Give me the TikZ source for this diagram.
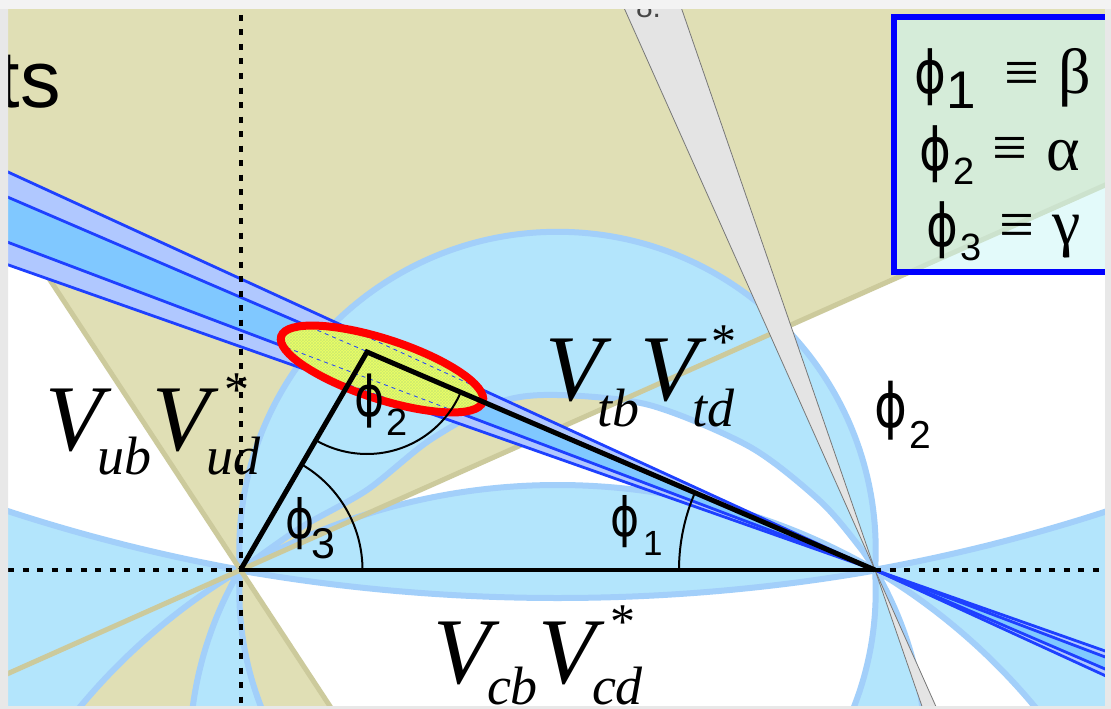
\documentclass[tikz,border=0pt]{standalone}
\usepackage{fontspec}
\usepackage{graphicx}
\setmainfont{Liberation Serif}
\newfontfamily\sansf{Liberation Sans}
\newfontfamily\phif{DejaVu Sans}
\newcommand\phig{\scalebox{0.82}[1]{\phif ϕ}}
\usetikzlibrary{calc,patterns}
\definecolor{tanf}{RGB}{224,223,181}
\definecolor{tane}{RGB}{204,202,156}
\definecolor{lbf}{RGB}{179,229,252}
\definecolor{lbe}{RGB}{162,207,250}
\definecolor{bandA}{RGB}{176,200,255}
\definecolor{bandB}{RGB}{128,200,255}
\definecolor{bandL}{RGB}{30,64,255}
\definecolor{grayw}{RGB}{228,228,228}
\definecolor{graye}{RGB}{120,120,120}
\definecolor{ellf}{RGB}{238,255,100}
\definecolor{ellp}{RGB}{205,235,110}
\definecolor{legf}{RGB}{205,247,247}
\definecolor{frameT}{RGB}{243,243,243}
\definecolor{frameS}{RGB}{232,232,232}
\definecolor{legb}{RGB}{0,0,255}
\begin{document}
\begin{tikzpicture}[x=1pt,y=-1pt,
  lbl/.style={inner sep=0pt,outer sep=0pt,anchor=base west},
  bluefill/.style={fill=lbf},
  blueedge/.style={draw=lbe,line width=6},
  tanedge/.style={draw=tane,line width=5},
  bandline/.style={draw=bandL,line width=2.8},
  axisdots/.style={draw=black,line width=4.5,dash pattern=on 6 off 8.5},
  triside/.style={draw=black,line width=5,line join=miter},
  anglearc/.style={draw=black,line width=2},
  phifont/.style={font=\fontsize{#1}{#1}\selectfont},
  digfont/.style={font=\sansf\fontsize{#1}{#1}\selectfont},
  vfont/.style={font=\fontsize{94}{94}\selectfont\itshape},
  subfont/.style={font=\fontsize{54}{54}\selectfont\itshape},
  starfont/.style={font=\fontsize{50}{50}\selectfont}]
\useasboundingbox (0,0) rectangle (1111,709);
\coordinate (O) at (240.5,570);
\coordinate (P) at (875,570);
\coordinate (A) at (367,352);
% band coordinates
\coordinate (b1l) at (-50,145.4); \coordinate (b1r) at (1160,700.8);
\coordinate (b2l) at (-50,172.3); \coordinate (b2r) at (1160,692.6);
\coordinate (b3l) at (-50,220.4); \coordinate (b3r) at (1160,677.7);
\coordinate (b4l) at (-50,244.4); \coordinate (b4r) at (1160,670.3);
% gray wedge coordinates
\coordinate (g1t) at (612.5,-18); \coordinate (g1b) at (950,738);
\coordinate (g2t) at (672.4,-18); \coordinate (g2b) at (932.9,738);
\begin{scope}
\clip (8,9) rectangle (1105,706);
\fill[white] (0,0) rectangle (1111,709);
% gamma wedges
\fill[tanf] (O) -- ($(O)+(-24:2500)$) -- ($(O)+(-73.6:2500)$) -- ($(O)+(-123.3:2500)$) -- cycle;
\fill[tanf] (O) -- ($(O)+(156:2500)$) -- ($(O)+(106.4:2500)$) -- ($(O)+(56.7:2500)$) -- cycle;
% alpha regions, upper half
\begin{scope}
\clip (0,0) rectangle (1111,570);
\fill[bluefill,even odd rule] (-100,-100) rectangle (1300,570) (557.5,-1174) circle[radius=1772];
\fill[bluefill,even odd rule] (557.5,550) circle[radius=318.2]
  (240.5,570) plot[smooth] coordinates {(240.5,570) (300,528) (367,490) (430,440) (500,402) (557.5,395) (650,405.2) (750,446.9) (820,501) (860,547.4) (875,570)} -- cycle;
\fill[bluefill] (557.5,1120) circle[radius=635];
\path[blueedge] (557.5,-1174) circle[radius=1772] (557.5,550) circle[radius=318.2]
  (557.5,1120) circle[radius=635];
\path[blueedge] plot[smooth] coordinates {(240.5,570) (300,528) (367,490) (430,440) (500,402) (557.5,395) (650,405.2) (750,446.9) (820,501) (860,547.4) (875,570)};
\end{scope}
% alpha regions, lower half
\begin{scope}
\clip (0,570) rectangle (1111,800);
\fill[bluefill,even odd rule] (-100,570) rectangle (1300,800) (557.5,1104) circle[radius=621];
\fill[bluefill,even odd rule] (557.5,756) circle[radius=368] (557.5,591) circle[radius=318.2];
\fill[bluefill] (557.5,-1230) circle[radius=1828];
\path[blueedge] (557.5,1104) circle[radius=621] (557.5,756) circle[radius=368]
  (557.5,591) circle[radius=318.2] (557.5,-1230) circle[radius=1828];
\end{scope}
% gamma edges
\path[tanedge] ($(O)+(-24:2500)$) -- (O) -- ($(O)+(-123.3:2500)$);
\path[tanedge] ($(O)+(156:2500)$) -- (O) -- ($(O)+(56.7:2500)$);
% beta bands
\fill[bandA] (b1l) -- (P) -- (b4l) -- cycle;
\fill[bandA] (b1r) -- (P) -- (b4r) -- cycle;
\fill[bandB] (b2l) -- (P) -- (b3l) -- cycle;
\fill[bandB] (b2r) -- (P) -- (b3r) -- cycle;
\path[bandline] (b1l) -- (b1r);
\path[bandline] (b2l) -- (b2r);
\path[bandline] (b3l) -- (b3r);
\path[bandline] (b4l) -- (b4r);
% gray wedge
\fill[grayw] (g1t) -- (g2t) -- (P) -- cycle;
\fill[grayw] (g1b) -- (g2b) -- (P) -- cycle;
\draw[graye,line width=0.8] (g1t) -- (g1b);
\draw[graye,line width=0.8] (g2t) -- (g2b);
\node[lbl,font=\sansf\fontsize{30}{30}\selectfont,text={rgb,255:red,70;green,70;blue,70}] (cut) at (636,18) {8.};
% fit ellipse
\fill[ellf,rotate around={-18:(382,369)}] (382,369) ellipse[x radius=106,y radius=30];
\fill[pattern=crosshatch,pattern color=ellp,rotate around={-18:(382,369)}] (382,369) ellipse[x radius=106,y radius=30];
\begin{scope}
\clip[rotate around={-18:(382,369)}] (382,369) ellipse[x radius=106,y radius=30];
\draw[bandL,line width=0.8,dash pattern=on 4 off 4] (b1l) -- (P) (b2l) -- (P) (b3l) -- (P) (b4l) -- (P);
\end{scope}
\draw[red,line width=8,rotate around={-18:(382,369)}] (382,369) ellipse[x radius=106,y radius=30];
% axes
\path[axisdots] (241,15) -- (241,709);
\path[axisdots] (8,570) -- (O);
\path[axisdots] (P) -- (1111,570);
% triangle
\path[triside] (O) -- (A) -- (P);
\draw[black,line width=4.5] (O) -- (P);
\path[anglearc] ($(O)+(0:122)$) arc[start angle=0,end angle=-59.87,radius=122];
\path[anglearc] ($(A)+(23.23:102)$) arc[start angle=23.23,end angle=120.13,radius=102];
\path[anglearc] ($(P)+(180:196)$) arc[start angle=180,end angle=203.23,radius=196];
\end{scope}
% title fragment
\node[lbl,font=\sansf\fontsize{81}{81}\selectfont] (ts) at (-2.5,107) {ts};
% angle labels
\node[lbl,phifont=54] (p3) at (285.5,538) {\phig};
\node[lbl,digfont=43] (p3n) at (311,558) {3};
\node[lbl,phifont=56] (p2) at (354.5,416) {\phig};
\node[lbl,digfont=38] (p2n) at (386,435) {2};
\node[lbl,phifont=54] (p1) at (610.5,536) {\phig};
\node[lbl,digfont=35] (p1n) at (643,555) {1};
\node[lbl,phifont=61] (q2) at (874,427) {\phig};
\node[lbl,digfont=39] (q2n) at (909,448) {2};
% side labels
\node[lbl,vfont] (ubV) at (45,450) {V};
\node[lbl,subfont] (ubS) at (97,474) {ub};
\node[lbl,vfont] (udV) at (152,450) {V};
\node[lbl,subfont] (udS) at (206,474) {ud};
\node[lbl,starfont] (udX) at (224.5,406) {*};
\node[lbl,vfont] (tbV) at (545,400) {V};
\node[lbl,subfont] (tbS) at (597,426) {tb};
\node[lbl,vfont] (tdV) at (640,400) {V};
\node[lbl,subfont] (tdS) at (692,426) {td};
\node[lbl,starfont] (tdX) at (711.5,358) {*};
\node[lbl,vfont] (cbV) at (433,683) {V};
\node[lbl,subfont] (cbS) at (487,704) {cb};
\node[lbl,vfont] (cdV) at (538,683) {V};
\node[lbl,subfont] (cdS) at (592,704) {cd};
\node[lbl,starfont] (cdX) at (610,638) {*};
% legend
\fill[legf,fill opacity=0.55] (893.5,17) rectangle (1125,271.5);
\draw[legb,line width=6] (1125,17) -- (893.5,17) -- (893.5,271.5) -- (1125,271.5);
\node[lbl,phifont=59] (l1p) at (914,93) {\phig};
\node[lbl,digfont=53] (l1n) at (946,108) {1};
\node[lbl,font=\fontsize{62}{62}\selectfont] (l1e) at (1004,93) {≡};
\node[lbl,font=\fontsize{64}{64}\selectfont] (l1g) at (1058.5,93) {β};
\node[lbl,phifont=59] (l2p) at (919,170) {\phig};
\node[lbl,digfont=38] (l2n) at (953,184) {2};
\node[lbl,font=\fontsize{62}{62}\selectfont] (l2e) at (992,168) {≡};
\node[lbl,font=\fontsize{64}{64}\selectfont] (l2g) at (1046,170) {α};
\node[lbl,phifont=59] (l3p) at (926,246) {\phig};
\node[lbl,digfont=38] (l3n) at (960.5,260) {3};
\node[lbl,font=\fontsize{62}{62}\selectfont] (l3e) at (999,245) {≡};
\node[lbl,font=\fontsize{64}{64}\selectfont] (l3g) at (1052,244) {γ};
% frame
\fill[frameS,even odd rule] (0,0) rectangle (1111,709) (8,9) rectangle (1105,706);
\fill[frameT] (0,0) rectangle (1111,9);
\end{tikzpicture}
\end{document}
